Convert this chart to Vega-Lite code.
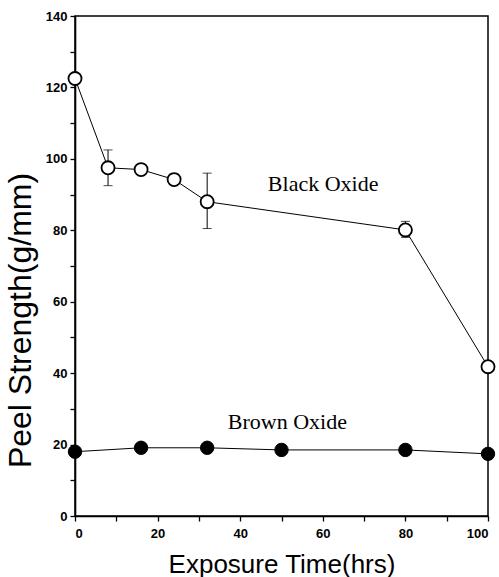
{
  "$schema": "https://vega.github.io/schema/vega-lite/v6.json",
  "width": 413,
  "height": 500,
  "autosize": {"type": "none"},
  "padding": {"left": 75, "top": 16, "right": 11, "bottom": 61},
  "background": "white",
  "config": {
    "view": {"stroke": "black", "strokeWidth": 1.5},
    "axis": {
      "domainColor": "black",
      "domainWidth": 1.6,
      "tickColor": "black",
      "tickWidth": 1.3,
      "labelFont": "Liberation Sans",
      "labelFontSize": 13,
      "labelFontWeight": "bold",
      "labelColor": "black",
      "titleFont": "Liberation Sans",
      "titleFontWeight": "normal",
      "titleColor": "black",
      "grid": false
    }
  },
  "datasets": {
    "black": [
      {"t": 0, "s": 122.5},
      {"t": 8, "s": 97.5, "lo": 92.5, "hi": 102.5},
      {"t": 16, "s": 97, "lo": 95.8, "hi": 98.2},
      {"t": 24, "s": 94.2, "lo": 92.8, "hi": 95.8},
      {"t": 32, "s": 88, "lo": 80.5, "hi": 96},
      {"t": 80, "s": 80.1, "lo": 78, "hi": 82.5},
      {"t": 100, "s": 41.8}
    ],
    "brown": [
      {"t": 0, "s": 18},
      {"t": 16, "s": 19.1},
      {"t": 32, "s": 19.1},
      {"t": 50, "s": 18.5},
      {"t": 80, "s": 18.5},
      {"t": 100, "s": 17.4}
    ],
    "labels": [
      {"t": 46.7, "s": 91, "label": "Black Oxide"},
      {"t": 37, "s": 24.5, "label": "Brown Oxide"}
    ]
  },
  "encoding": {
    "x": {
      "field": "t", "type": "quantitative",
      "scale": {"domain": [0, 100], "nice": false},
      "title": "Exposure Time(hrs)",
      "axis": {
        "values": [0, 10, 20, 30, 40, 50, 60, 70, 80, 90, 100],
        "labelExpr": "datum.value % 20 == 0 ? datum.label : ''",
        "tickSize": 5,
        "labelPadding": 6,
        "titleFontSize": 26,
        "titleY": 56,
        "titleBaseline": "alphabetic",
        "encode": {"ticks": {"update": {"y2": {"signal": "datum.value % 20 == 0 ? -7 : -4"}}}}
      }
    },
    "y": {
      "field": "s", "type": "quantitative",
      "scale": {"domain": [0, 140], "nice": false},
      "title": "Peel Strength(g/mm)",
      "axis": {
        "values": [0, 10, 20, 30, 40, 50, 60, 70, 80, 90, 100, 110, 120, 130, 140],
        "labelExpr": "datum.value % 20 == 0 ? datum.label : ''",
        "tickSize": 5,
        "labelPadding": 3,
        "titleFontSize": 32,
        "titleAngle": -90,
        "titleX": -55,
        "titleY": 304,
        "titleBaseline": "middle",
        "titleAlign": "center",
        "encode": {"ticks": {"update": {"x2": {"signal": "datum.value % 20 == 0 ? 7 : 4"}}}}
      }
    }
  },
  "layer": [
    {
      "data": {"name": "black"},
      "mark": {"type": "line", "color": "black", "strokeWidth": 1}
    },
    {
      "data": {"name": "brown"},
      "mark": {"type": "line", "color": "black", "strokeWidth": 1}
    },
    {
      "data": {"name": "black"},
      "transform": [{"filter": "isValid(datum.lo)"}],
      "mark": {"type": "rule", "color": "black", "strokeWidth": 1},
      "encoding": {
        "y": {"field": "lo", "type": "quantitative", "title": "Peel Strength(g/mm)"},
        "y2": {"field": "hi"}
      }
    },
    {
      "data": {"name": "black"},
      "transform": [{"filter": "isValid(datum.lo)"}],
      "mark": {"type": "tick", "color": "black", "orient": "horizontal", "size": 9, "thickness": 1},
      "encoding": {
        "y": {"field": "lo", "type": "quantitative", "title": "Peel Strength(g/mm)"}
      }
    },
    {
      "data": {"name": "black"},
      "transform": [{"filter": "isValid(datum.hi)"}],
      "mark": {"type": "tick", "color": "black", "orient": "horizontal", "size": 9, "thickness": 1},
      "encoding": {
        "y": {"field": "hi", "type": "quantitative", "title": "Peel Strength(g/mm)"}
      }
    },
    {
      "data": {"name": "black"},
      "mark": {"type": "point", "shape": "circle", "size": 170, "filled": true, "fill": "white", "stroke": "black", "strokeWidth": 1.8, "opacity": 1}
    },
    {
      "data": {"name": "brown"},
      "mark": {"type": "point", "shape": "circle", "size": 180, "filled": true, "fill": "black", "stroke": "black", "strokeWidth": 1, "opacity": 1}
    },
    {
      "data": {"name": "labels"},
      "mark": {"type": "text", "font": "Liberation Serif", "fontSize": 22, "align": "left", "baseline": "alphabetic", "color": "black"},
      "encoding": {
        "text": {"field": "label"}
      }
    }
  ]
}
